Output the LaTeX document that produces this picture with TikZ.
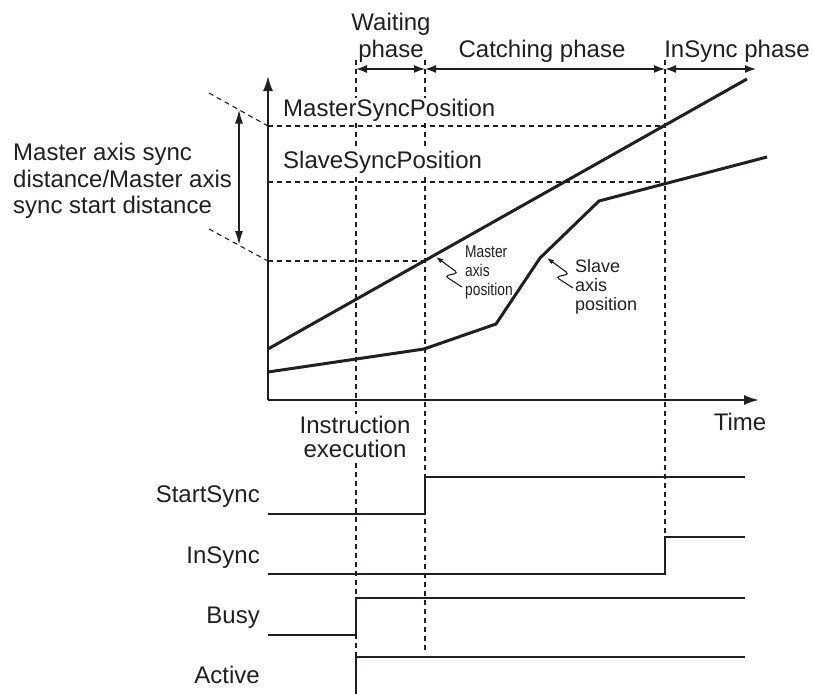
\documentclass[tikz,border=0pt]{standalone}
\usepackage{fontspec}
\setmainfont{Liberation Sans}
\newfontfamily\narrowsf[FakeStretch=0.81]{Liberation Sans}
\usetikzlibrary{arrows.meta}
\definecolor{ink}{RGB}{35,31,32}
\begin{document}
\begin{tikzpicture}[x=1pt,y=-1pt,
  every node/.style={inner sep=0pt, text=ink},
  lbl/.style={font=\fontsize{24}{26.5}\selectfont},
  masklbl/.style={lbl, fill=white, inner sep=1.5pt},
  mlbl/.style={font=\narrowsf\fontsize{17}{19}\selectfont},
  slbl/.style={font=\fontsize{18}{19}\selectfont},
  dsh/.style={draw=ink, line width=1.1pt, dash pattern=on 5pt off 4pt},
  axisline/.style={draw=ink, line width=2pt, -{Latex[length=15pt,width=10pt]}},
  curve/.style={draw=ink, line width=3pt, line join=miter},
  sig/.style={draw=ink, line width=2.6pt, line join=miter},
  phasearrow/.style={draw=ink, line width=1.6pt, {Latex[length=11pt,width=8pt]}-{Latex[length=11pt,width=8pt]}},
  distarrow/.style={draw=ink, line width=1.6pt, {Latex[length=14pt,width=8pt]}-{Latex[length=14pt,width=8pt]}},
  lead/.style={draw=ink, line width=1.1pt, rounded corners=3.5pt, -{Latex[length=7pt,width=5pt]}},
]
\useasboundingbox (0,0) rectangle (813,693);

% ---------- axes ----------
\coordinate (O) at (268,400);
\coordinate (Ytop) at (268,76);
\coordinate (Xend) at (759,400);
\draw[axisline] (O) -- (Ytop);
\draw[axisline] (O) -- (Xend);
\node[lbl, anchor=base] (time) at (740,430) {Time};

% ---------- phase boundaries ----------
\coordinate (w0) at (356,60);  \coordinate (w1) at (356,414);
\coordinate (w2) at (356,463); \coordinate (w3) at (356,657);
\coordinate (c0) at (425,60);  \coordinate (c1) at (425,653);
\coordinate (s0) at (665,60);  \coordinate (s1) at (665,537);
\draw[dsh] (w0) -- (w1);
\draw[dsh] (w2) -- (w3);
\draw[dsh] (c0) -- (c1);
\draw[dsh] (s0) -- (s1);

\coordinate (pa) at (356,69); \coordinate (pb) at (425,69);
\coordinate (pc) at (665,69); \coordinate (pd) at (756,69);
\draw[phasearrow] (pa) -- (pb);
\draw[phasearrow] (pb) -- (pc);
\draw[phasearrow] (pc) -- (pd);
\node[lbl, anchor=base] (wait1) at (391,31) {Waiting};
\node[lbl, anchor=base] (wait2) at (391,57) {phase};
\node[lbl, anchor=base] (catch) at (542,57) {Catching phase};
\node[lbl, anchor=base] (insph) at (737,57) {InSync phase};

% ---------- sync positions ----------
\coordinate (msp0) at (268,126); \coordinate (msp1) at (665,126);
\coordinate (ssp0) at (268,182); \coordinate (ssp1) at (665,182);
\coordinate (mst0) at (268,261); \coordinate (mst1) at (425,261);
\draw[dsh] (msp0) -- (msp1);
\draw[dsh] (ssp0) -- (ssp1);
\draw[dsh] (mst0) -- (mst1);
\node[masklbl, anchor=base west] (mspl) at (281.5,116.5) {MasterSyncPosition};
\node[masklbl, anchor=base west] (sspl) at (281.5,168.5) {SlaveSyncPosition};

% ---------- distance marker ----------
\coordinate (d0) at (209,93);  \coordinate (d1) at (209,229);
\coordinate (da) at (239,109.5); \coordinate (db) at (239,245);
\draw[dsh] (d0) -- (msp0);
\draw[dsh] (d1) -- (mst0);
\draw[distarrow] (da) -- (db);
\node[lbl, anchor=base west] (dist1) at (13,160) {Master axis sync};
\node[lbl, anchor=base west] (dist2) at (13,187) {distance/Master axis};
\node[lbl, anchor=base west] (dist3) at (13,213) {sync start distance};

% ---------- master and slave positions ----------
\coordinate (m0) at (268,349); \coordinate (m1) at (747,79);
\draw[curve] (m0) -- (m1);
\coordinate (sl0) at (268,372); \coordinate (sl1) at (424,349);
\coordinate (sl2) at (496,324); \coordinate (sl3) at (540,258);
\coordinate (sl4) at (599,201); \coordinate (sl5) at (767,157);
\draw[curve] (sl0) -- (sl1) -- (sl2) -- (sl3) -- (sl4) -- (sl5);

% leaders
\coordinate (mT) at (462,287); \coordinate (mB) at (445,276);
\coordinate (mA) at (458,273); \coordinate (mP) at (436,257);
\draw[lead] (mT) -- (mB) -- (mA) -- (mP);
\coordinate (sT) at (573,288); \coordinate (sB) at (556,277);
\coordinate (sA) at (569,274); \coordinate (sP) at (547,258);
\draw[lead] (sT) -- (sB) -- (sA) -- (sP);
\node[mlbl, anchor=base west] (map1) at (465,257) {Master};
\node[mlbl, anchor=base west] (map2) at (465,276) {axis};
\node[mlbl, anchor=base west] (map3) at (465,295) {position};
\node[slbl, anchor=base west] (sap1) at (575,272) {Slave};
\node[slbl, anchor=base west] (sap2) at (575,291) {axis};
\node[slbl, anchor=base west] (sap3) at (575,310) {position};

% ---------- instruction execution ----------
\node[lbl, anchor=base] (ie1) at (355,433) {Instruction};
\node[lbl, anchor=base] (ie2) at (355,457) {execution};

% ---------- signals ----------
\node[lbl, anchor=base east] (lss) at (260,502) {StartSync};
\node[lbl, anchor=base east] (lis) at (260,563) {InSync};
\node[lbl, anchor=base east] (lbu) at (260,623) {Busy};
\node[lbl, anchor=base east] (lac) at (260,683) {Active};

\coordinate (ss0) at (268,514); \coordinate (ss1) at (425,514);
\coordinate (ss2) at (425,477); \coordinate (ss3) at (745,477);
\draw[sig] (ss0) -- (ss1) -- (ss2) -- (ss3);
\coordinate (is0) at (268,574); \coordinate (is1) at (665,574);
\coordinate (is2) at (665,537); \coordinate (is3) at (745,537);
\draw[sig] (is0) -- (is1) -- (is2) -- (is3);
\coordinate (bu0) at (268,635); \coordinate (bu1) at (356,635);
\coordinate (bu2) at (356,598); \coordinate (bu3) at (745,598);
\draw[sig] (bu0) -- (bu1) -- (bu2) -- (bu3);
\coordinate (ac0) at (356,694); \coordinate (ac1) at (356,657);
\coordinate (ac2) at (745,657);
\draw[sig] (ac0) -- (ac1) -- (ac2);
\end{tikzpicture}
\end{document}
